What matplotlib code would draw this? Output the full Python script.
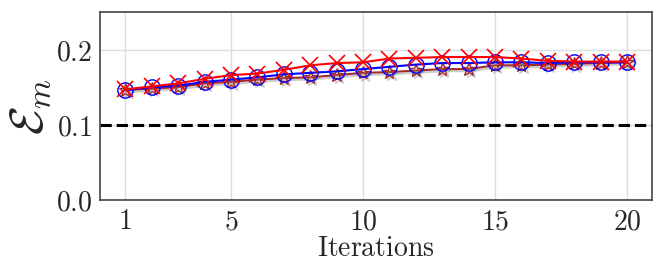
import numpy as np
import matplotlib
matplotlib.use('Agg')
import matplotlib.pyplot as plt
import matplotlib.patheffects as pe

plt.rcParams['mathtext.fontset'] = 'cm'
plt.rcParams['font.family'] = ['DejaVu Serif']
plt.rcParams['text.color'] = '#262626'
plt.rcParams['xtick.color'] = '#262626'
plt.rcParams['ytick.color'] = '#262626'
plt.rcParams['axes.labelcolor'] = '#262626'

iteraciones = np.arange(1, 21)

# valores
serie_circulos = [0.146, 0.150, 0.152, 0.157, 0.160, 0.163, 0.167, 0.169, 0.171, 0.174,
                  0.177, 0.180, 0.182, 0.182, 0.183, 0.183, 0.182, 0.183, 0.183, 0.183]
serie_cruces = [0.147, 0.151, 0.155, 0.161, 0.166, 0.168, 0.173, 0.179, 0.182, 0.183,
                0.188, 0.189, 0.190, 0.190, 0.190, 0.188, 0.185, 0.184, 0.184, 0.184]
serie_estrellas = [0.146, 0.148, 0.150, 0.155, 0.157, 0.160, 0.162, 0.163, 0.166, 0.169,
                   0.170, 0.172, 0.174, 0.174, 0.179, 0.179, 0.180, 0.181, 0.182, 0.183]
umbral = 0.1

xticks = [1, 5, 10, 15, 20]
yticks = [0.0, 0.1, 0.2]

fig, ax = plt.subplots(figsize=(6.64, 2.77), dpi=100)

sombra = [pe.SimpleLineShadow(offset=(1.5, -1.5), shadow_color='grey', alpha=0.4), pe.Normal()]
ax.plot(iteraciones, serie_estrellas, '*-', color='brown', markersize=10, lw=1.5,
        markerfacecolor='none', path_effects=sombra)
ax.plot(iteraciones, serie_circulos, 'o-', color='blue', markersize=11, lw=1.5,
        markerfacecolor='none')
ax.plot(iteraciones, serie_cruces, 'x-', color='red', markersize=11, lw=1.5,
        markeredgewidth=1.2)

ax.axhline(umbral, color='black', linestyle='--', lw=2.2)

ax.set_xlim(0.05, 20.95)
ax.set_ylim(0, 0.25)
ax.set_xticks(xticks)
ax.set_xticklabels([r'$%d$' % t for t in xticks], fontsize=20)
ax.set_yticks(yticks)
ax.set_yticklabels([r'$%.1f$' % t for t in yticks], fontsize=20)
ax.tick_params(length=0, pad=6)
ax.grid(True, color='#dddddd', lw=1)
ax.set_axisbelow(True)
for s in ax.spines.values():
    s.set_color('#444444')
    s.set_linewidth(1.2)

ax.set_xlabel(r'$\mathrm{Iterations}$', fontsize=20, labelpad=0)
ax.set_ylabel(r'$\mathcal{E}_m$', fontsize=34, labelpad=2)

fig.subplots_adjust(left=0.151, right=0.982, top=0.957, bottom=0.278)
fig.savefig('out.png', dpi=100)
